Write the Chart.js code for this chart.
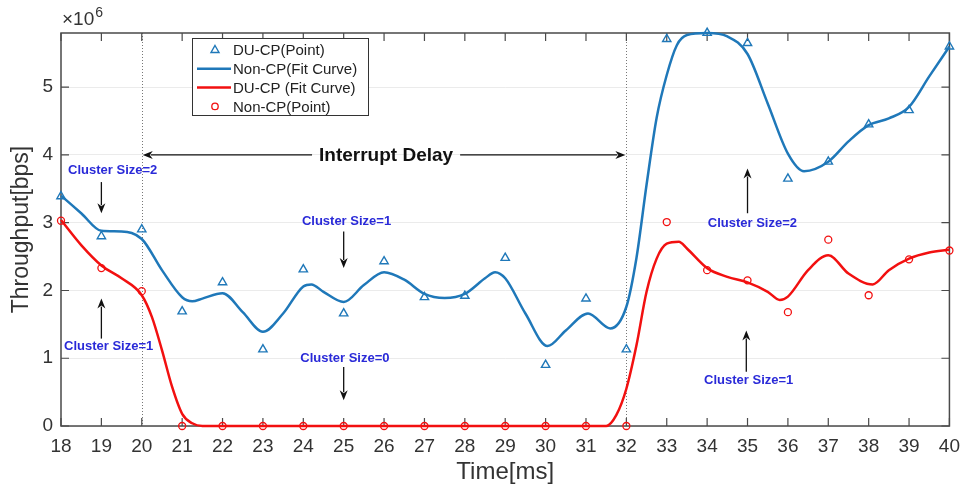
<!DOCTYPE html>
<html>
<head>
<meta charset="utf-8">
<title>Throughput vs Time</title>
<script src="https://cdn.jsdelivr.net/npm/chart.js@4.4.0/dist/chart.umd.min.js"></script>
<style>
  html, body { margin: 0; padding: 0; background: #fff; }
  #wrap { width: 969px; height: 486px; }
</style>
</head>
<body>
<div id="wrap"><canvas id="chart" width="969" height="486"></canvas></div>
<script>
// ---- data (throughput in units of 1e6 bps) ----
const timeSlots = [18, 19, 20, 21, 22, 23, 24, 25, 26, 27, 28, 29, 30, 31, 32, 33, 34, 35, 36, 37, 38, 39, 40];
const yTickValues = [0, 1, 2, 3, 4, 5];

const duCpPoint = [3.39, 2.80, 2.90, 1.69, 2.12, 1.13, 2.31, 1.66, 2.43, 1.90, 1.92, 2.48,
  0.90, 1.88, 1.13, 5.71, 5.80, 5.65, 3.65, 3.90, 4.45, 4.66, 5.60];
const nonCpPoint = [3.03, 2.33, 1.99, 0, 0, 0, 0, 0, 0, 0, 0, 0,
  0, 0, 0, 3.01, 2.30, 2.15, 1.68, 2.75, 1.93, 2.46, 2.59];

// fit curves
const blueCurveT = [18, 18.5, 19, 19.5, 20, 20.5, 21, 21.25, 21.5, 22, 22.5, 23, 23.5, 24, 24.2,
  24.5, 25, 25.5, 26, 26.5, 27, 27.5, 28, 28.5, 28.75, 29, 29.5, 30.05, 30.5, 31.05, 31.6,
  32, 32.25, 32.5, 32.75, 33, 33.25, 33.5, 34, 34.5, 35, 35.5, 36, 36.4, 37, 37.5, 38,
  38.5, 39, 39.5, 40];
const blueCurveV = [3.40, 3.14, 2.88, 2.87, 2.76, 2.30, 1.90, 1.84, 1.88, 1.96, 1.68, 1.39, 1.66, 2.06, 2.09,
  1.98, 1.83, 2.08, 2.27, 2.16, 1.95, 1.89, 1.95, 2.18, 2.27, 2.18, 1.66, 1.18, 1.41, 1.66, 1.44,
  1.76, 2.48, 3.56, 4.55, 5.18, 5.62, 5.77, 5.80, 5.75, 5.49, 4.76, 4.02, 3.76, 3.90, 4.20, 4.44,
  4.54, 4.71, 5.16, 5.60];

const redCurveT = [18, 18.5, 19, 19.5, 20, 20.25, 20.5, 20.75, 21, 21.25, 21.5, 31.5, 31.75,
  32, 32.25, 32.5, 32.75, 33, 33.3, 33.5, 34, 34.5, 35, 35.5, 35.8, 36, 36.5, 37, 37.5,
  38.1, 38.5, 39, 39.5, 40];
const redCurveV = [3.04, 2.67, 2.37, 2.18, 1.93, 1.61, 1.12, 0.58, 0.18, 0.04, 0, 0, 0.16,
  0.55, 1.19, 1.98, 2.47, 2.69, 2.72, 2.62, 2.33, 2.20, 2.12, 1.98, 1.86, 1.91, 2.30, 2.52, 2.25,
  2.09, 2.30, 2.47, 2.56, 2.60];

const delayStart = 20;
const delayEnd = 32;

const notes = [
  { text: "Cluster Size=2", tx: 19.28, ty: 3.77, ax: 19.0, from: 3.60, to: 3.14 },
  { text: "Cluster Size=1", tx: 19.18, ty: 1.18, ax: 19.0, from: 1.29, to: 1.88 },
  { text: "Cluster Size=1", tx: 25.07, ty: 3.02, ax: 25.0, from: 2.87, to: 2.33 },
  { text: "Cluster Size=0", tx: 25.03, ty: 1.00, ax: 25.0, from: 0.87, to: 0.38 },
  { text: "Cluster Size=2", tx: 35.12, ty: 2.99, ax: 35.0, from: 3.14, to: 3.80 },
  { text: "Cluster Size=1", tx: 35.03, ty: 0.675, ax: 34.97, from: 0.80, to: 1.41 }
];

const BLUE = "#1f78b9";
const RED = "#f21010";
const NOTE_BLUE = "#2a2ad8";
const AXIS = "#4a4a4a";
const FONT = "'Liberation Sans', Arial, sans-serif";

const toXY = (xs, ys) => xs.map((x, i) => ({ x: x, y: ys[i] }));

function arrow(ctx, x1, y1, x2, y2) {
  const ang = Math.atan2(y2 - y1, x2 - x1);
  const len = 10, half = 4;
  ctx.beginPath();
  ctx.moveTo(x1, y1);
  ctx.lineTo(x2 - Math.cos(ang) * len * 0.8, y2 - Math.sin(ang) * len * 0.8);
  ctx.stroke();
  ctx.beginPath();
  ctx.moveTo(x2, y2);
  ctx.lineTo(x2 - Math.cos(ang) * len - Math.sin(ang) * half, y2 - Math.sin(ang) * len + Math.cos(ang) * half);
  ctx.lineTo(x2 - Math.cos(ang) * len * 0.7, y2 - Math.sin(ang) * len * 0.7);
  ctx.lineTo(x2 - Math.cos(ang) * len + Math.sin(ang) * half, y2 - Math.sin(ang) * len - Math.cos(ang) * half);
  ctx.closePath();
  ctx.fill();
}

const decor = {
  id: "decor",
  beforeDatasetsDraw(chart) {
    const { ctx, chartArea: a, scales: { x, y } } = chart;
    ctx.save();
    // dotted markers for the interrupt window
    ctx.strokeStyle = "#777";
    ctx.lineWidth = 1;
    ctx.setLineDash([1, 2]);
    [delayStart, delayEnd].forEach(t => {
      const px = Math.round(x.getPixelForValue(t)) + 0.5;
      ctx.beginPath();
      ctx.moveTo(px, a.top);
      ctx.lineTo(px, a.bottom);
      ctx.stroke();
    });
    ctx.setLineDash([]);
    // box + inward ticks
    ctx.strokeStyle = AXIS;
    ctx.lineWidth = 1.5;
    ctx.strokeRect(a.left, a.top, a.right - a.left, a.bottom - a.top);
    ctx.lineWidth = 1.2;
    ctx.beginPath();
    timeSlots.forEach(t => {
      const px = x.getPixelForValue(t);
      ctx.moveTo(px, a.bottom); ctx.lineTo(px, a.bottom - 8);
      ctx.moveTo(px, a.top); ctx.lineTo(px, a.top + 8);
    });
    yTickValues.forEach(v => {
      const py = y.getPixelForValue(v);
      ctx.moveTo(a.left, py); ctx.lineTo(a.left + 8, py);
      ctx.moveTo(a.right, py); ctx.lineTo(a.right - 8, py);
    });
    ctx.stroke();
    ctx.restore();
  },
  afterDatasetsDraw(chart) {
    const { ctx, chartArea: a, scales: { x, y } } = chart;
    ctx.save();
    // exponent label
    ctx.fillStyle = "#333";
    ctx.textBaseline = "alphabetic";
    ctx.textAlign = "left";
    ctx.font = "19px " + FONT;
    ctx.fillText("\u00d710", a.left + 1, 25);
    const w = ctx.measureText("\u00d710").width;
    ctx.font = "14px " + FONT;
    ctx.fillText("6", a.left + 2 + w, 17);

    // interrupt delay
    const iy = y.getPixelForValue(4);
    const cx = x.getPixelForValue(26.05);
    ctx.font = "bold 19px " + FONT;
    ctx.fillStyle = "#111";
    ctx.textAlign = "center";
    ctx.textBaseline = "middle";
    ctx.fillText("Interrupt Delay", cx, iy + 1);
    const tw = ctx.measureText("Interrupt Delay").width;
    ctx.strokeStyle = "#111";
    ctx.lineWidth = 1.3;
    arrow(ctx, cx - tw / 2 - 7, iy, x.getPixelForValue(delayStart) + 1, iy);
    arrow(ctx, cx + tw / 2 + 7, iy, x.getPixelForValue(delayEnd) - 1, iy);

    // cluster notes
    notes.forEach(n => {
      ctx.font = "bold 13px " + FONT;
      ctx.fillStyle = NOTE_BLUE;
      ctx.fillText(n.text, x.getPixelForValue(n.tx), y.getPixelForValue(n.ty));
      ctx.fillStyle = "#111";
      ctx.strokeStyle = "#111";
      ctx.lineWidth = 1.3;
      const ax = x.getPixelForValue(n.ax);
      arrow(ctx, ax, y.getPixelForValue(n.from), ax, y.getPixelForValue(n.to));
    });

    // legend box
    const lx = a.left + 131, ly = a.top + 5, lw = 176, lh = 77;
    ctx.fillStyle = "#fff";
    ctx.fillRect(lx, ly, lw, lh);
    ctx.strokeStyle = "#333";
    ctx.lineWidth = 1;
    ctx.strokeRect(lx + 0.5, ly + 0.5, lw, lh);
    const rows = [
      { label: "DU-CP(Point)", kind: "tri", color: BLUE },
      { label: "Non-CP(Fit Curve)", kind: "line", color: BLUE },
      { label: "DU-CP (Fit Curve)", kind: "line", color: RED },
      { label: "Non-CP(Point)", kind: "circ", color: RED }
    ];
    ctx.font = "15px " + FONT;
    ctx.textAlign = "left";
    ctx.textBaseline = "middle";
    rows.forEach((r, i) => {
      const ry = ly + 12 + i * 18.8;
      const mx = lx + 23;
      ctx.strokeStyle = r.color;
      if (r.kind === "line") {
        ctx.lineWidth = 2.5;
        ctx.beginPath();
        ctx.moveTo(lx + 5, ry); ctx.lineTo(lx + 39, ry);
        ctx.stroke();
      } else if (r.kind === "tri") {
        ctx.lineWidth = 1.4;
        ctx.beginPath();
        ctx.moveTo(mx, ry - 4.5); ctx.lineTo(mx + 4, ry + 2.5); ctx.lineTo(mx - 4, ry + 2.5);
        ctx.closePath();
        ctx.stroke();
      } else {
        ctx.lineWidth = 1.3;
        ctx.beginPath();
        ctx.arc(mx, ry, 3.2, 0, Math.PI * 2);
        ctx.stroke();
      }
      ctx.fillStyle = "#222";
      ctx.fillText(r.label, lx + 41, ry + 1);
    });
    ctx.restore();
  }
};

new Chart(document.getElementById("chart"), {
  type: "line",
  data: {
    datasets: [
      {
        label: "DU-CP(Point)",
        data: toXY(timeSlots, duCpPoint),
        showLine: false,
        pointStyle: "triangle",
        pointRadius: 4.8,
        pointBorderWidth: 1.4,
        borderColor: BLUE,
        backgroundColor: "rgba(0,0,0,0)",
        clip: false,
        order: 4
      },
      {
        label: "Non-CP(Fit Curve)",
        data: toXY(blueCurveT, blueCurveV),
        borderColor: BLUE,
        borderWidth: 2.5,
        pointRadius: 0,
        cubicInterpolationMode: "monotone",
        clip: false,
        order: 3
      },
      {
        label: "DU-CP (Fit Curve)",
        data: toXY(redCurveT, redCurveV),
        borderColor: RED,
        borderWidth: 2.5,
        pointRadius: 0,
        cubicInterpolationMode: "monotone",
        clip: false,
        order: 2
      },
      {
        label: "Non-CP(Point)",
        data: toXY(timeSlots, nonCpPoint),
        showLine: false,
        pointStyle: "circle",
        pointRadius: 3.5,
        pointBorderWidth: 1.3,
        borderColor: RED,
        backgroundColor: "rgba(0,0,0,0)",
        clip: false,
        order: 1
      }
    ]
  },
  options: {
    responsive: false,
    animation: false,
    devicePixelRatio: 1,
    layout: { padding: { top: 33, right: 14, left: 0, bottom: 0 } },
    plugins: {
      legend: { display: false },
      tooltip: { enabled: false }
    },
    scales: {
      x: {
        type: "linear",
        min: 18,
        max: 40,
        afterBuildTicks: s => { s.ticks = timeSlots.map(v => ({ value: v })); },
        afterFit: s => { s.height = 60; },
        ticks: {
          color: "#333",
          padding: 9,
          maxRotation: 0,
          autoSkip: false,
          font: { family: FONT, size: 19 }
        },
        grid: { display: false, drawTicks: false },
        border: { display: false },
        title: {
          display: true,
          text: "Time[ms]",
          color: "#333",
          font: { family: FONT, size: 24, lineHeight: 1 },
          padding: { top: 0, bottom: 2 }
        }
      },
      y: {
        min: 0,
        max: 5.8,
        afterBuildTicks: s => { s.ticks = yTickValues.map(v => ({ value: v })); },
        afterFit: s => { s.width = 61; },
        ticks: {
          color: "#333",
          padding: 8,
          font: { family: FONT, size: 19 }
        },
        grid: { color: "#ebebeb", lineWidth: 1, drawTicks: false },
        border: { display: false },
        title: {
          display: true,
          text: "Throughput[bps]",
          color: "#333",
          font: { family: FONT, size: 23, lineHeight: 1 },
          padding: { top: 10, bottom: 0 }
        }
      }
    }
  },
  plugins: [decor]
});
</script>
</body>
</html>
